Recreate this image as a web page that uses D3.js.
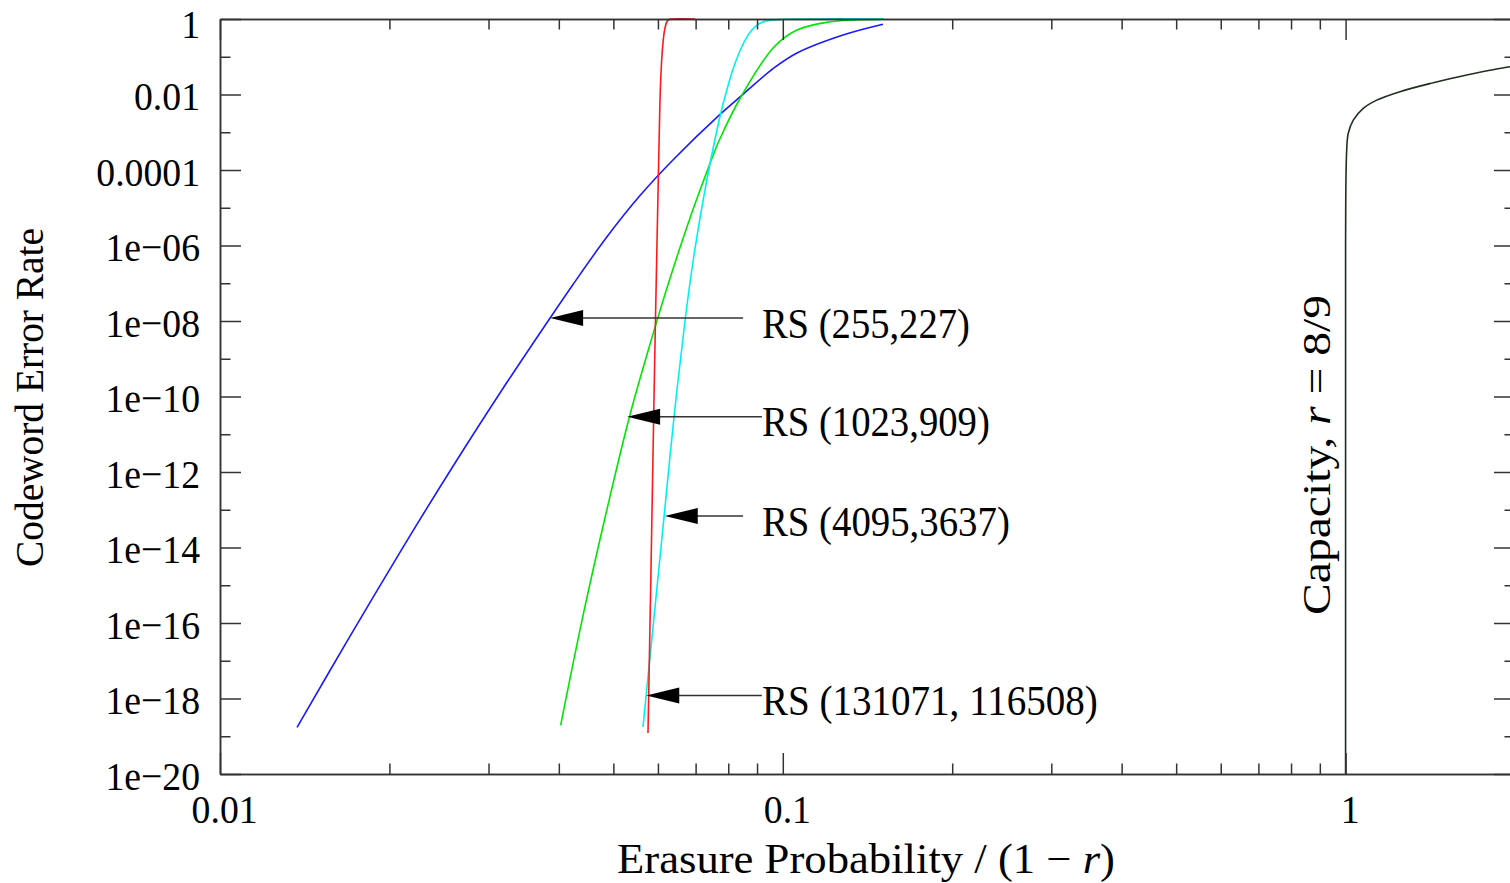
<!DOCTYPE html>
<html>
<head>
<meta charset="utf-8">
<script src="https://cdn.jsdelivr.net/npm/d3@7/dist/d3.min.js"></script>
<style>
  body { margin: 0; background: #fff; }
  svg { display: block; }
  text { font-family: "Liberation Serif", "DejaVu Serif", serif; fill: #000; }
</style>
</head>
<body>
<svg id="chart" width="1510" height="883"></svg>
<script>
// RS (255,227)
const rs255X = [0.013705, 0.016812, 0.021139, 0.025942, 0.031443, 0.038597, 0.042392, 0.048714, 0.055757, 0.063797, 0.077011, 0.084637, 0.096465, 0.10598, 0.12794, 0.15067];
const rs255Y = [1.72e-19, 3.26e-17, 1.01e-14, 1.42e-12, 1.24e-10, 1.20e-8, 9.3e-8, 1.70e-6, 2.10e-5, 1.84e-4, 2.79e-3, 9.58e-3, 0.0504, 0.1257, 0.377, 0.728];

// RS (1023,909)
const rs1023X = [0.040297, 0.044200, 0.048654, 0.053519, 0.059293, 0.063027, 0.067509, 0.070127, 0.073747, 0.077011, 0.084637, 0.096465, 0.10598, 0.12081, 0.13435, 0.15129];
const rs1023Y = [1.95e-19, 1.67e-16, 9.55e-14, 3.30e-11, 6.85e-9, 1.34e-7, 3.0e-6, 1.51e-5, 1.14e-4, 5.86e-4, 9.7e-3, 0.1813, 0.511, 0.833, 0.941, 0.982];

// RS (4095,3637)
const rs4095X = [0.056441, 0.057187, 0.059464, 0.061541, 0.064136, 0.067095, 0.069329, 0.072194, 0.074473, 0.077453, 0.079540, 0.081817, 0.084844, 0.087810, 0.090622, 0.093451, 0.098860, 0.11, 0.151];
const rs4095Y = [1.76e-19, 1.24e-18, 4.07e-16, 6.83e-14, 3.24e-11, 1.13e-8, 4.13e-7, 1.60e-5, 1.84e-4, 2.86e-3, 0.01316, 0.0535, 0.2048, 0.481, 0.737, 0.885, 0.970, 1, 1];

// RS (131071, 116508)
const rs131071X = [0.057608, 0.058010, 0.058487, 0.058967, 0.059403, 0.060186, 0.060507, 0.060830, 0.061203, 0.061655, 0.062212, 0.062773, 0.063550, 0.0698];
const rs131071Y = [1.22e-19, 3.34e-17, 2.91e-14, 3.24e-11, 1.13e-8, 1.84e-4, 7.15e-3, 0.0535, 0.2048, 0.511, 0.833, 0.970, 1, 1];

// capacity, r = 8/9
const capX = [1.0, 1.0, 1.0, 1.004, 1.011, 1.032, 1.075, 1.136, 1.249, 1.432, 1.641, 1.959, 2.0];
const capY = [1e-20, 1e-10, 1e-6, 2.77e-4, 9.4e-4, 2.1e-3, 4.3e-3, 7.1e-3, 0.0119, 0.0205, 0.0329, 0.0545, 0.056];

const xMajorTicks = [0.01, 0.1, 1];
const xTickLabels = ['0.01', '0.1', '1'];
const yMajorTicks = [1, 1e-2, 1e-4, 1e-6, 1e-8, 1e-10, 1e-12, 1e-14, 1e-16, 1e-18, 1e-20];
const yTickLabels = ['1', '0.01', '0.0001', '1e\u221206', '1e\u221208', '1e\u221210', '1e\u221212', '1e\u221214', '1e\u221216', '1e\u221218', '1e\u221220'];
const yMinorTicks = [1e-1, 1e-3, 1e-5, 1e-7, 1e-9, 1e-11, 1e-13, 1e-15, 1e-17, 1e-19];

const annText = ['RS (255,227)', 'RS (1023,909)', 'RS (4095,3637)', 'RS (131071, 116508)'];
const annTipX = [0.0386, 0.0529, 0.0617, 0.0572];
const annLineX = [0.085, 0.0918, 0.085, 0.0918];
const annY = [1.2e-8, 2.9e-11, 6.8e-14, 1.2e-18];
const annTextX = 0.0918;

const series = [
  { xs: rs255X, ys: rs255Y, color: '#1a1aff' },
  { xs: rs1023X, ys: rs1023Y, color: '#00e600' },
  { xs: rs4095X, ys: rs4095Y, color: '#00f0f0' },
  { xs: rs131071X, ys: rs131071Y, color: '#ff1a1a' },
  { xs: capX, ys: capY, color: '#1f2f1f' }
];

const svg = d3.select('#chart');
const plotLeft = 220, plotRight = 1515, plotTop = 19, plotBottom = 774;

const x = d3.scaleLog().domain([0.01, 2]).range([plotLeft, plotRight]);
const y = d3.scaleLog().domain([1e-20, 1]).range([plotBottom, plotTop]);

const xMinorTicks = [];
[0.01, 0.1, 1].forEach(d => {
  for (let k = 2; k <= 9; k++) {
    const v = d * k;
    if (v <= 2) xMinorTicks.push(v);
  }
});

// squeeze text horizontally a bit to mimic the narrow look of the original
function squeeze(sel, f) {
  sel.each(function() {
    const w = this.getComputedTextLength();
    d3.select(this).attr('textLength', w * f).attr('lengthAdjust', 'spacingAndGlyphs');
  });
}

function styleAxis(g) {
  g.selectAll('path.domain').attr('stroke', '#333').attr('stroke-width', 1.5);
  g.selectAll('.tick line').attr('stroke', '#333').attr('stroke-width', 1.5);
}

// curves (behind axes)
svg.append('defs').append('clipPath').attr('id', 'plot-clip')
  .append('rect').attr('x', plotLeft).attr('y', plotTop - 1)
  .attr('width', plotRight - plotLeft).attr('height', plotBottom - plotTop + 1);

const line = d3.line()
  .x(d => x(d[0]))
  .y(d => y(d[1]))
  .curve(d3.curveCatmullRom.alpha(0.5));

const curves = svg.append('g').attr('clip-path', 'url(#plot-clip)');
series.forEach(s => {
  const pts = s.xs.map((v, i) => [v, s.ys[i]]);
  curves.append('path')
    .datum(pts)
    .attr('fill', 'none')
    .attr('stroke', s.color)
    .attr('stroke-width', 1.6)
    .attr('stroke-linejoin', 'round')
    .attr('d', line);
});

// left axis (major with labels, minor without)
const gLeft = svg.append('g').attr('transform', `translate(${plotLeft},0)`)
  .call(d3.axisLeft(y).tickValues(yMajorTicks).tickFormat((d, i) => yTickLabels[i])
    .tickSize(-21).tickSizeOuter(0).tickPadding(20));
svg.append('g').attr('transform', `translate(${plotLeft},0)`)
  .call(d3.axisLeft(y).tickValues(yMinorTicks).tickFormat('').tickSize(-10.5).tickSizeOuter(0))
  .call(styleAxis);
styleAxis(gLeft);
gLeft.attr('font-family', null).attr('font-size', null);
gLeft.selectAll('text')
  .style('font-size', '41px')
  .attr('dy', (d, i) => i === 0 ? '0.44em' : '0.37em');
squeeze(gLeft.selectAll('text'), 0.92);

// right axis, ticks only
svg.append('g').attr('transform', `translate(${plotRight},0)`)
  .call(d3.axisRight(y).tickValues(yMajorTicks).tickFormat('').tickSize(-21).tickSizeOuter(0))
  .call(styleAxis);
svg.append('g').attr('transform', `translate(${plotRight},0)`)
  .call(d3.axisRight(y).tickValues(yMinorTicks).tickFormat('').tickSize(-10.5).tickSizeOuter(0))
  .call(styleAxis);

// bottom axis
const gBottom = svg.append('g').attr('transform', `translate(0,${plotBottom})`)
  .call(d3.axisBottom(x).tickValues(xMajorTicks).tickFormat((d, i) => xTickLabels[i])
    .tickSize(-21).tickSizeOuter(0).tickPadding(20));
svg.append('g').attr('transform', `translate(0,${plotBottom})`)
  .call(d3.axisBottom(x).tickValues(xMinorTicks).tickFormat('').tickSize(-10.5).tickSizeOuter(0))
  .call(styleAxis);
styleAxis(gBottom);
gBottom.attr('font-family', null).attr('font-size', null);
gBottom.selectAll('text')
  .style('font-size', '41px')
  .attr('dx', '0.1em');
squeeze(gBottom.selectAll('text'), 0.92);

// top axis, ticks only
svg.append('g').attr('transform', `translate(0,${plotTop})`)
  .call(d3.axisTop(x).tickValues(xMajorTicks).tickFormat('').tickSize(-21).tickSizeOuter(0))
  .call(styleAxis);
svg.append('g').attr('transform', `translate(0,${plotTop})`)
  .call(d3.axisTop(x).tickValues(xMinorTicks).tickFormat('').tickSize(-10.5).tickSizeOuter(0))
  .call(styleAxis);

// annotations with arrows
const ann = svg.append('g');
const annWidths = [208, 228, 248, 336];
annText.forEach((t, i) => {
  const yy = y(annY[i]);
  const tip = x(annTipX[i]);
  ann.append('line')
    .attr('x1', tip + 30).attr('x2', x(annLineX[i]))
    .attr('y1', yy).attr('y2', yy)
    .attr('stroke', '#333').attr('stroke-width', 1.5);
  ann.append('path')
    .attr('d', `M${tip},${yy} L${tip + 33},${yy - 8} L${tip + 33},${yy + 8} Z`)
    .attr('fill', '#000');
  ann.append('text')
    .attr('x', x(annTextX)).attr('y', yy + 19.5)
    .style('font-size', '42px')
    .attr('textLength', annWidths[i]).attr('lengthAdjust', 'spacingAndGlyphs')
    .text(t);
});

// axis titles
const xTitle = svg.append('text')
  .attr('x', 866).attr('y', 873)
  .attr('text-anchor', 'middle')
  .style('font-size', '42px')
  .attr('textLength', 498).attr('lengthAdjust', 'spacingAndGlyphs');
xTitle.append('tspan').text('Erasure Probability / (1 \u2212 ');
xTitle.append('tspan').style('font-style', 'italic').text('r');
xTitle.append('tspan').text(')');

svg.append('text')
  .attr('transform', 'translate(43,397.5) rotate(-90)')
  .attr('text-anchor', 'middle')
  .style('font-size', '41px')
  .attr('textLength', 339).attr('lengthAdjust', 'spacingAndGlyphs')
  .text('Codeword Error Rate');

const capLabel = svg.append('text')
  .attr('transform', 'translate(1330,455) rotate(-90)')
  .attr('text-anchor', 'middle')
  .style('font-size', '41px')
  .attr('textLength', 320).attr('lengthAdjust', 'spacingAndGlyphs');
capLabel.append('tspan').text('Capacity, ');
capLabel.append('tspan').style('font-style', 'italic').text('r');
capLabel.append('tspan').text(' = 8/9');
</script>
</body>
</html>
